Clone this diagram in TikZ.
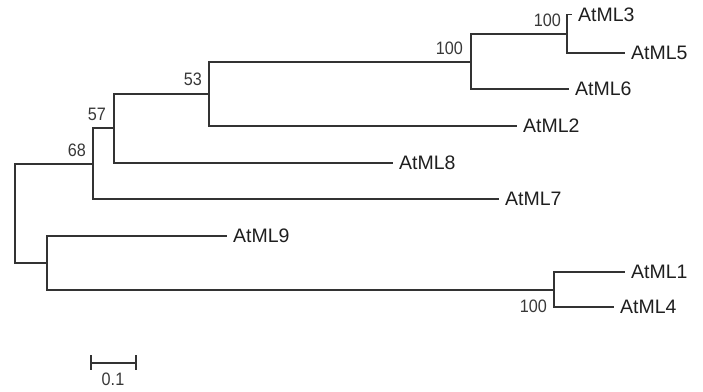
\documentclass[tikz,border=0pt]{standalone}
\usepackage{fontspec}
\setmainfont{Liberation Sans}
\newfontfamily\leaffont{Liberation Sans}
\newfontfamily\bootfont[FakeStretch=0.9]{Liberation Sans}
\begin{document}
\begin{tikzpicture}[x=1pt,y=-1pt,
  br/.style={line width=1.2pt, draw=black!80, line cap=rect},
  leaf/.style={anchor=west, inner xsep=7pt, inner ysep=0pt, text=black!88, font=\leaffont\fontsize{19.5}{19.5}\selectfont},
  boot/.style={inner sep=0pt, text=black!78, font=\bootfont\fontsize{18}{18}\selectfont}]
\useasboundingbox (0,0) rectangle (703,391);
% internal nodes
\coordinate (root) at (15,213);
\coordinate (n68) at (93,164);
\coordinate (n57) at (114,128);
\coordinate (n53) at (209,94);
\coordinate (n100a) at (471,62);
\coordinate (n100b) at (567,34);
\coordinate (nB) at (47,263);
\coordinate (n100c) at (554,290);
% leaves
\node[leaf] (L3) at (571,14.5) {AtML3};
\node[leaf] (L5) at (624,53) {AtML5};
\node[leaf] (L6) at (568,89) {AtML6};
\node[leaf] (L2) at (516,126) {AtML2};
\node[leaf] (L8) at (392,163) {AtML8};
\node[leaf] (L7) at (498,199) {AtML7};
\node[leaf] (L9) at (226,236) {AtML9};
\node[leaf] (L1) at (624,272) {AtML1};
\node[leaf] (L4) at (613,307) {AtML4};
% branches
\draw[br] (root) |- (n68);
\draw[br] (root) |- (nB);
\draw[br] (n68) |- (n57);
\draw[br] (n68) |- (L7.west);
\draw[br] (n57) |- (n53);
\draw[br] (n57) |- (L8.west);
\draw[br] (n53) |- (n100a);
\draw[br] (n53) |- (L2.west);
\draw[br] (n100a) |- (n100b);
\draw[br] (n100a) |- (L6.west);
\draw[br] (n100b) |- (L3.west);
\draw[br] (n100b) |- (L5.west);
\draw[br] (nB) |- (L9.west);
\draw[br] (nB) |- (n100c);
\draw[br] (n100c) |- (L1.west);
\draw[br] (n100c) |- (L4.west);
% bootstrap values
\node[boot, anchor=south east] (b1) at ([shift={(-6,-7)}]n100b) {100};
\node[boot, anchor=south east] (b2) at ([shift={(-8,-7)}]n100a) {100};
\node[boot, anchor=south east] (b3) at ([shift={(-7,-8)}]n53) {53};
\node[boot, anchor=south east] (b4) at ([shift={(-8,-7)}]n57) {57};
\node[boot, anchor=south east] (b5) at ([shift={(-7,-7)}]n68) {68};
\node[boot, anchor=north east] (b6) at ([shift={(-7,10)}]n100c) {100};
% scale bar
\coordinate (s1) at (91,363);
\coordinate (s2) at (136,363);
\draw[br] (s1) -- (s2);
\draw[br] ([yshift=-6]s1) -- ([yshift=7]s1);
\draw[br] ([yshift=-6]s2) -- ([yshift=7]s2);
\node[boot, anchor=north] (sl) at (113,373) {0.1};
\end{tikzpicture}
\end{document}
